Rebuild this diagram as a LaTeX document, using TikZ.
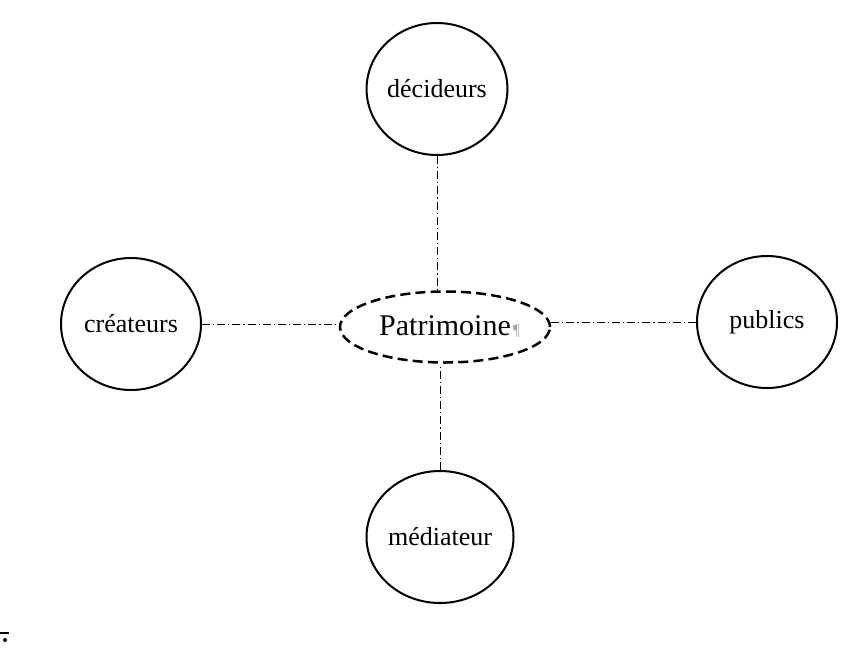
\documentclass[tikz,border=0pt]{standalone}
\usepackage{fontspec}
\setmainfont{Liberation Serif}
\usetikzlibrary{shapes.geometric}
\begin{document}
\begin{tikzpicture}[x=0.5pt,y=-0.5pt,
  actor/.style={draw=black,line width=1pt,ellipse,minimum width=70pt,minimum height=66pt,inner sep=0pt,font=\fontsize{13}{15}\selectfont},
  centre/.style={draw=black,line width=1.25pt,dash pattern=on 5pt off 2.6pt,ellipse,minimum width=105pt,minimum height=35.5pt,inner sep=0pt,font=\fontsize{15}{18}\selectfont},
  link/.style={draw=black,line width=0.5pt,dash pattern=on 4pt off 1.5pt on 0.6pt off 1.5pt}]
\useasboundingbox (0,0) rectangle (862,670);
\fill[white] (0,0) rectangle (862,670);
\node[actor] (dec) at (437,89) {décideurs};
\node[actor] (cre) at (131,324) {créateurs};
\node[actor] (pub) at (767,322) {publics};
\node[actor] (med) at (440,537) {médiateur};
\node[centre] (pat) at (445,327) {Patrimoine\rlap{\hspace{1pt}\color{gray!70}\fontsize{8}{9}\selectfont ¶}};
\draw[link] (dec.south) -- (dec.south |- pat.north);
\draw[link] (med.north) -- (med.north |- pat.south);
\draw[link] (cre.east) -- (cre.east -| pat.west);
\draw[link] (pub.west) -- (pub.west -| pat.east);
\draw[line width=0.8pt] (0,633) -- (9,633);
\fill (5,640) circle (1pt);
\end{tikzpicture}
\end{document}
